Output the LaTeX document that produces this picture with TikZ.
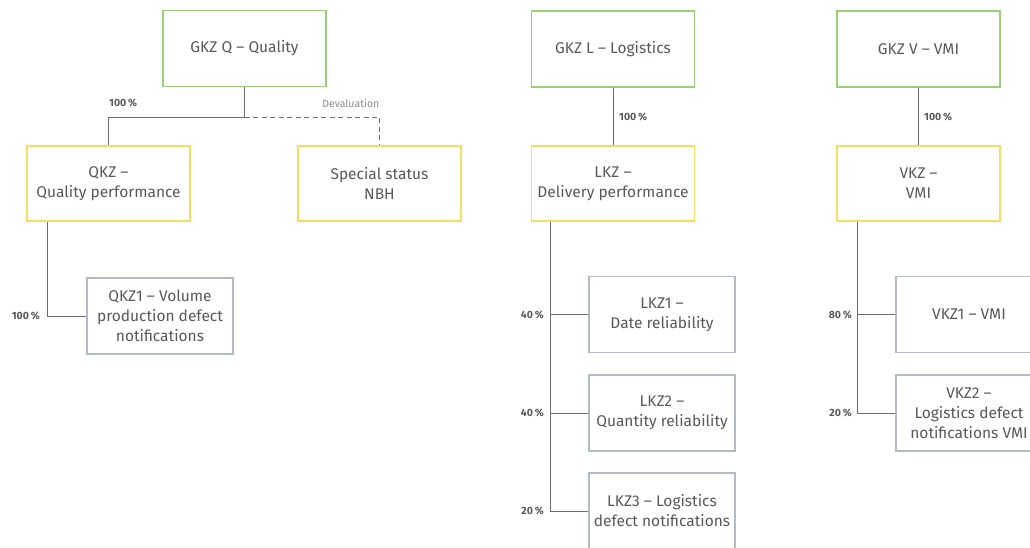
\documentclass[tikz,border=0pt]{standalone}
\usepackage{fontspec}
\setmainfont{Fira Sans}
\begin{document}
\begin{tikzpicture}[x=1pt,y=-1pt,
  box/.style={draw, line width=1.3pt, minimum width=163pt, minimum height=76pt, inner sep=0pt,
    align=center, text=txt, font=\fontsize{15.5}{20}\selectfont},
  topbox/.style={box, draw=boxgreen},
  midbox/.style={box, draw=boxyellow, minimum height=75pt},
  leafbox/.style={box, draw=boxgray, minimum width=146pt},
  pct/.style={font=\fontsize{10.5}{12}\bfseries\selectfont, text=txt, inner sep=0pt},
  conn/.style={draw=linegray, line width=0.8pt},
]
\definecolor{txt}{HTML}{58595C}
\definecolor{boxgreen}{HTML}{9BCF74}
\definecolor{boxyellow}{HTML}{F7DC62}
\definecolor{boxgray}{HTML}{B3BAC4}
\definecolor{linegray}{HTML}{6E6E70}
\definecolor{lightgray}{HTML}{8C8D90}
\clip (0,0) rectangle (1030,547);
\fill[white] (0,0) rectangle (1030,547);

% Quality
\node[topbox]  (GKZQ) at (244.5,48.5) {GKZ Q – Quality};
\node[midbox]  (QKZ)  at (108.5,183.5) {QKZ –\\Quality performance};
\node[midbox]  (NBH)  at (379.5,183.5) {Special status\\NBH};
\node[leafbox] (QKZ1) at (160,316) {QKZ1 – Volume\\production defect\\notifications};
\coordinate (qj) at (GKZQ.south |- 0,117);
\draw[conn] (GKZQ.south) -- (qj) -| (QKZ.north);
\draw[conn, dashed, dash pattern=on 5pt off 3.5pt] (qj) -| (NBH.north);
\coordinate (qt) at ([xshift=21pt]QKZ.south west);
\draw[conn] (qt) |- (QKZ1.west);
\node[pct, anchor=west] (pq) at (109,103) {100\,\%};
\node[font=\fontsize{10.5}{12}\selectfont, text=lightgray, inner sep=0pt, anchor=east] (dev) at (379.5,103) {Devaluation};
\node[pct, anchor=east] (pq1) at (40,316) {100\,\%};

% Logistics
\node[topbox]  (GKZL) at (613,49) {GKZ L – Logistics};
\node[midbox]  (LKZ)  at (613,183.5) {LKZ –\\Delivery performance};
\node[leafbox] (LKZ1) at (662,314.5) {LKZ1 –\\Date reliability};
\node[leafbox] (LKZ2) at (662,413) {LKZ2 –\\Quantity reliability};
\node[leafbox] (LKZ3) at (662,511) {LKZ3 – Logistics\\defect notifications};
\draw[conn] (GKZL) -- (LKZ);
\coordinate (lt) at ([xshift=20pt]LKZ.south west);
\draw[conn] (lt) |- (LKZ1.west);
\draw[conn] (lt) |- (LKZ2.west);
\draw[conn] (lt) |- (LKZ3.west);
\node[pct, anchor=west] (pl) at (619,117) {100\,\%};
\node[pct, anchor=east] (pl1) at (544,314.5) {40\,\%};
\node[pct, anchor=east] (pl2) at (544,413) {40\,\%};
\node[pct, anchor=east] (pl3) at (544,511) {20\,\%};

% VMI
\node[topbox]  (GKZV) at (918.5,49) {GKZ V – VMI};
\node[midbox]  (VKZ)  at (918.5,183.5) {VKZ –\\VMI};
\node[leafbox] (VKZ1) at (969,314.5) {VKZ1 – VMI};
\node[leafbox] (VKZ2) at (969,413) {VKZ2 –\\Logistics defect\\notifications VMI};
\draw[conn] (GKZV) -- (VKZ);
\coordinate (vt) at ([xshift=21pt]VKZ.south west);
\draw[conn] (vt) |- (VKZ1.west);
\draw[conn] (vt) |- (VKZ2.west);
\node[pct, anchor=west] (pv) at (924,117) {100\,\%};
\node[pct, anchor=east] (pv1) at (852,314.5) {80\,\%};
\node[pct, anchor=east] (pv2) at (852,413) {20\,\%};
\end{tikzpicture}
\end{document}
